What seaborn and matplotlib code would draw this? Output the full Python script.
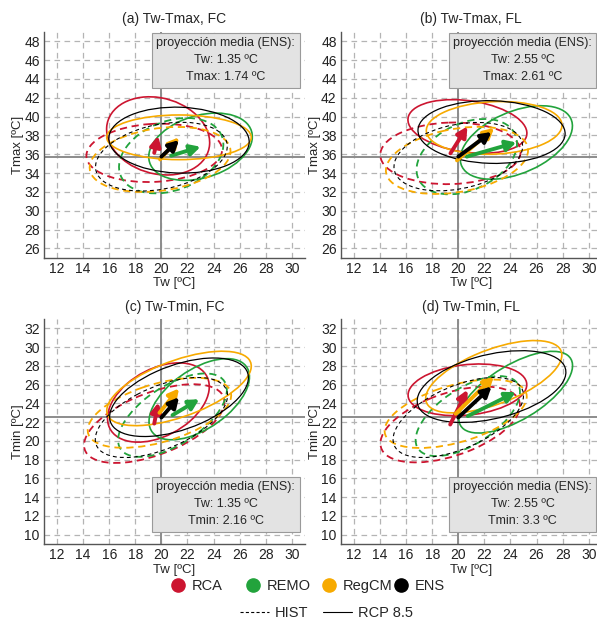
import numpy as np
import matplotlib
matplotlib.use("Agg")
import matplotlib.pyplot as plt
from matplotlib.patches import Ellipse
from matplotlib.lines import Line2D
import seaborn as sns

# ---------------------------------------------------------------------------
# data (rows: panels a-d, columns: RCA, REMO, RegCM, ENS)
models = ["RCA", "REMO", "RegCM", "ENS"]
colors = ["#cc1530", "#22a33c", "#f7aa00", "#000000"]

titles = ["(a) Tw-Tmax, FC", "(b) Tw-Tmax, FL", "(c) Tw-Tmin, FC", "(d) Tw-Tmin, FL"]
ylabels = ["Tmax [ºC]", "Tmax [ºC]", "Tmin [ºC]", "Tmin [ºC]"]
var_names = ["Tmax", "Tmax", "Tmin", "Tmin"]
proj_tw = ["1.35", "2.55", "1.35", "2.55"]
proj_t = ["1.74", "2.61", "2.16", "3.3"]

# historical means and spread
hist_x = [[19.45, 20.75, 19.90, 20.00],
          [19.40, 20.65, 19.90, 20.00],
          [19.45, 20.85, 19.85, 20.00],
          [19.38, 20.73, 19.80, 20.00]]
hist_y = [[36.15, 35.85, 35.45, 35.75],
          [36.10, 35.75, 35.35, 35.75],
          [21.85, 22.75, 23.00, 22.50],
          [21.75, 22.65, 22.90, 22.50]]
hist_sx = [[5.20, 4.00, 5.40, 5.05],
           [5.38, 3.85, 5.45, 4.93],
           [5.38, 4.17, 5.50, 5.07],
           [5.35, 4.00, 5.45, 5.00]]
hist_sy = [[3.10, 4.00, 3.45, 3.65],
           [3.27, 4.00, 3.56, 3.63],
           [4.20, 4.45, 3.73, 4.27],
           [4.04, 4.27, 3.65, 4.27]]
hist_r = [[0.10, 0.30, 0.25, 0.30],
          [0.05, 0.35, 0.30, 0.30],
          [0.55, 0.60, 0.50, 0.55],
          [0.50, 0.60, 0.50, 0.55]]

# RCP 8.5 means and spread
rcp_x = [[19.75, 23.00, 21.35, 21.35],
         [20.70, 24.45, 22.75, 22.55],
         [19.77, 22.90, 21.35, 21.35],
         [20.70, 24.40, 22.72, 22.55]]
rcp_y = [[37.95, 36.80, 37.80, 37.50],
         [38.95, 37.25, 38.80, 38.36],
         [24.10, 24.45, 25.60, 24.66],
         [25.45, 25.20, 26.85, 25.80]]
rcp_sx = [[3.95, 3.97, 5.54, 5.38],
          [4.56, 4.30, 5.20, 5.64],
          [3.90, 3.85, 5.54, 5.32],
          [4.55, 4.36, 5.22, 5.70]]
rcp_sy = [[4.15, 3.57, 2.37, 3.50],
          [2.85, 3.90, 2.80, 3.33],
          [4.23, 4.33, 3.97, 4.19],
          [2.76, 4.36, 3.86, 3.83]]
rcp_r = [[-0.17, 0.30, 0.00, -0.05],
         [-0.25, 0.45, 0.10, -0.05],
         [0.40, 0.55, 0.60, 0.50],
         [0.20, 0.65, 0.60, 0.40]]

ylims = [(25, 49), (25, 49), (9, 33), (9, 33)]
yticks = [np.arange(26, 49, 2), np.arange(26, 49, 2), np.arange(10, 33, 2), np.arange(10, 33, 2)]
xticks = np.arange(12, 31, 2)

# ---------------------------------------------------------------------------
sns.set_theme(style="white")
plt.rcParams["font.family"] = ["Liberation Sans", "DejaVu Sans"]


def add_ellipse(ax, cx, cy, sx, sy, r, color, ls, lw):
    cov = np.array([[sx * sx, r * sx * sy], [r * sx * sy, sy * sy]])
    vals, vecs = np.linalg.eigh(cov)
    angle = np.degrees(np.arctan2(vecs[1, 1], vecs[0, 1]))
    e = Ellipse((cx, cy), 2 * np.sqrt(vals[1]), 2 * np.sqrt(vals[0]), angle=angle,
                fill=False, edgecolor=color, linestyle=ls, linewidth=lw)
    ax.add_patch(e)


fig = plt.figure(figsize=(5.97, 6.23), dpi=100)
positions = [[0.0737, 0.586, 0.437, 0.363], [0.571, 0.586, 0.437, 0.363],
             [0.0737, 0.1268, 0.437, 0.361], [0.571, 0.1268, 0.437, 0.361]]

for p in range(4):
    ax = fig.add_axes(positions[p])
    ax.set_xlim(11, 31)
    ax.set_ylim(*ylims[p])
    ax.set_xticks(xticks)
    ax.set_yticks(yticks[p])
    ax.grid(True, color="#b4b4b4", linestyle=(0, (4.5, 3.5)), linewidth=0.9)
    ax.tick_params(length=0, labelsize=10, pad=3, colors="#222222")
    for s in ["top", "right"]:
        ax.spines[s].set_visible(False)
    for s in ["left", "bottom"]:
        ax.spines[s].set_color("#555555")
        ax.spines[s].set_linewidth(1.0)

    # reference lines through the ENS historical mean
    ax.axvline(hist_x[p][3], color="#8c8c8c", lw=1.4, zorder=1)
    ax.axhline(hist_y[p][3], color="#8c8c8c", lw=1.4, zorder=1)

    for m in range(4):
        c = colors[m]
        if m == 3:
            add_ellipse(ax, hist_x[p][m], hist_y[p][m], hist_sx[p][m], hist_sy[p][m],
                        hist_r[p][m], c, (0, (3.5, 2.8)), 0.8)
            add_ellipse(ax, rcp_x[p][m], rcp_y[p][m], rcp_sx[p][m], rcp_sy[p][m],
                        rcp_r[p][m], c, "-", 0.9)
        else:
            add_ellipse(ax, hist_x[p][m], hist_y[p][m], hist_sx[p][m], hist_sy[p][m],
                        hist_r[p][m], c, (0, (4, 2.6)), 1.3)
            add_ellipse(ax, rcp_x[p][m], rcp_y[p][m], rcp_sx[p][m], rcp_sy[p][m],
                        rcp_r[p][m], c, "-", 1.2)

    for m in [0, 1, 2, 3]:
        ax.annotate("", xy=(rcp_x[p][m], rcp_y[p][m]), xytext=(hist_x[p][m], hist_y[p][m]),
                    arrowprops=dict(arrowstyle="-|>,head_length=0.6,head_width=0.32",
                                    color=colors[m], lw=2.8, mutation_scale=10,
                                    shrinkA=0, shrinkB=0), zorder=5)

    ax.set_title(titles[p], fontsize=10, pad=6)
    ax.set_xlabel("Tw [ºC]", fontsize=9.5, labelpad=1)
    ax.set_ylabel(ylabels[p], fontsize=9.5, labelpad=0)

    txt = "proyección media (ENS):\nTw: " + proj_tw[p] + " ºC\n" + var_names[p] + ": " + proj_t[p] + " ºC"
    if p < 2:
        ax.text(0.697, 0.975, txt, transform=ax.transAxes, ha="center", va="top",
                fontsize=9, linespacing=1.55, zorder=6,
                bbox=dict(boxstyle="square,pad=0.35", fc="#e3e3e3", ec="#9a9a9a", lw=0.8))
    else:
        ax.text(0.697, 0.075, txt, transform=ax.transAxes, ha="center", va="bottom",
                fontsize=9, linespacing=1.55, zorder=6,
                bbox=dict(boxstyle="square,pad=0.35", fc="#e3e3e3", ec="#9a9a9a", lw=0.8))

# legends: one entry per model, equally spaced columns
leg_px = [178, 253, 329, 401]
for m in range(4):
    h = Line2D([], [], marker="o", ls="", color=colors[m], markersize=9.5, label=models[m])
    fig.legend(handles=[h], loc="center left", bbox_to_anchor=((leg_px[m] - 7.3) / 597, 0.059),
               frameon=False, fontsize=10.5, borderpad=0, borderaxespad=0,
               handlelength=1.0, handletextpad=0.45)
lhandles = [Line2D([], [], color="black", ls=(0, (2.8, 2.0)), lw=0.8, label="HIST"),
            Line2D([], [], color="black", ls="-", lw=0.8, label="RCP 8.5")]
fig.legend(handles=lhandles, loc="center", bbox_to_anchor=(0.547, 0.016), ncol=2,
           frameon=False, fontsize=10.5, handlelength=2.0, handletextpad=0.4, columnspacing=1.0)

fig.savefig("out.png", dpi=100)
